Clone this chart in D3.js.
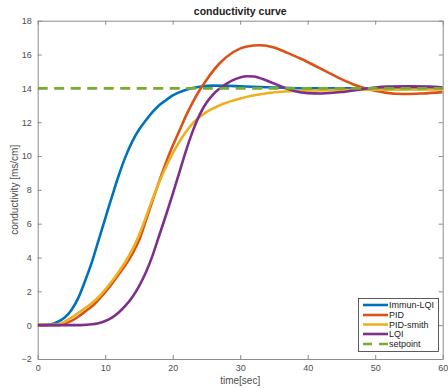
<!DOCTYPE html>
<html>
<head>
<meta charset="utf-8">
<script src="https://cdn.jsdelivr.net/npm/d3@7"></script>
<style>
  body { margin: 0; background: #fff; }
  svg { display: block; font-family: "Liberation Sans", Arial, sans-serif; }
</style>
</head>
<body>
<div class="chart"></div>
<script>
// data (time in sec, conductivity in ms/cm)
var immunT = [0, 1, 2, 3, 4, 5, 6, 7, 8, 9, 10, 11, 12, 13, 14, 15, 16, 17, 18, 19, 20, 22, 24, 26, 28, 30, 35, 40, 50, 60];
var immunV = [0, 0, 0.05, 0.2, 0.45, 0.9, 1.6, 2.6, 3.7, 5.0, 6.3, 7.6, 8.85, 9.95, 10.85, 11.55, 12.1, 12.6, 13.0, 13.3, 13.58, 13.92, 14.1, 14.16, 14.15, 14.12, 14.05, 14.0, 14.0, 14.0];

var pidT = [0, 3, 4, 5, 6, 7, 8, 9, 10, 11, 12, 13, 14, 15, 16, 17, 18, 19, 20, 21, 22, 23, 24, 25, 27, 29, 31, 33, 35, 37, 39, 41, 43, 45, 47, 49, 51, 53, 55, 57, 60];
var pidV = [0, 0, 0.1, 0.25, 0.5, 0.8, 1.1, 1.5, 1.95, 2.45, 3.0, 3.55, 4.2, 5.0, 6.15, 7.35, 8.5, 9.6, 10.6, 11.5, 12.4, 13.2, 13.9, 14.5, 15.5, 16.15, 16.48, 16.55, 16.42, 16.1, 15.75, 15.35, 14.95, 14.55, 14.2, 13.95, 13.78, 13.68, 13.67, 13.7, 13.78];

var smithT = [0, 3, 4, 5, 6, 7, 8, 9, 10, 11, 12, 13, 14, 15, 16, 17, 18, 19, 20, 21, 22, 23, 25, 27, 30, 33, 36, 40, 45, 50, 60];
var smithV = [0, 0.05, 0.2, 0.45, 0.72, 1.0, 1.3, 1.65, 2.1, 2.6, 3.15, 3.75, 4.45, 5.3, 6.35, 7.45, 8.45, 9.35, 10.15, 10.85, 11.45, 11.95, 12.6, 13.0, 13.4, 13.65, 13.8, 13.87, 13.9, 13.92, 13.93];

var lqiT = [0, 6, 7, 8, 9, 10, 11, 12, 13, 14, 15, 16, 17, 18, 19, 20, 21, 22, 23, 24, 25, 26, 27, 28, 29, 31, 32, 34, 36, 38, 40, 42, 45, 48, 50, 52, 55, 58, 60];
var lqiV = [0, 0, 0.02, 0.05, 0.12, 0.25, 0.45, 0.75, 1.15, 1.65, 2.3, 3.1, 4.1, 5.3, 6.5, 7.75, 9.05, 10.35, 11.5, 12.45, 13.15, 13.65, 14.0, 14.28, 14.5, 14.72, 14.7, 14.45, 14.12, 13.85, 13.72, 13.7, 13.78, 13.95, 14.05, 14.1, 14.12, 14.1, 14.05];

var setpointT = [0, 60];
var setpointV = [14, 14];

var seriesNames = ["Immun-LQI", "PID", "PID-smith", "LQI", "setpoint"];
var colors = ["#0072BD", "#D95319", "#EDB120", "#7E2F8E", "#77AC30"];

var xTicks = [0, 10, 20, 30, 40, 50, 60];
var yTicks = [-2, 0, 2, 4, 6, 8, 10, 12, 14, 16, 18];

var W = 448, H = 388;
var pLeft = 37.7, pRight = 442.7, pTop = 20.7, pBottom = 359;

var series = [
  { name: seriesNames[0], t: immunT, v: immunV, color: colors[0] },
  { name: seriesNames[1], t: pidT, v: pidV, color: colors[1] },
  { name: seriesNames[2], t: smithT, v: smithV, color: colors[2] },
  { name: seriesNames[3], t: lqiT, v: lqiV, color: colors[3] },
  { name: seriesNames[4], t: setpointT, v: setpointV, color: colors[4], dash: "10,6.5" }
];

var x = d3.scaleLinear().domain([0, 60]).range([pLeft, pRight]);
var y = d3.scaleLinear().domain([-2, 18]).range([pBottom, pTop]);

var svg = d3.select(".chart").append("svg")
  .attr("width", W)
  .attr("height", H);

// clip so curves stay inside the box
svg.append("defs").append("clipPath").attr("id", "plotclip")
  .append("rect")
  .attr("x", pLeft).attr("y", pTop)
  .attr("width", pRight - pLeft).attr("height", pBottom - pTop);

var axisColor = "#8c8c8c";
var textColor = "#4d4d4d";

// axes, ticks inside like matlab
var xAxis = svg.append("g")
  .attr("transform", "translate(0," + pBottom + ")")
  .call(d3.axisBottom(x).tickValues(xTicks).tickSizeInner(-4).tickSizeOuter(0).tickPadding(6));
var xTop = svg.append("g")
  .attr("transform", "translate(0," + pTop + ")")
  .call(d3.axisTop(x).tickValues(xTicks).tickSizeInner(-4).tickSizeOuter(0).tickFormat(""));
var yAxis = svg.append("g")
  .attr("transform", "translate(" + pLeft + ",0)")
  .call(d3.axisLeft(y).tickValues(yTicks).tickSizeInner(-4).tickSizeOuter(0).tickPadding(6));
var yRight = svg.append("g")
  .attr("transform", "translate(" + pRight + ",0)")
  .call(d3.axisRight(y).tickValues(yTicks).tickSizeInner(-4).tickSizeOuter(0).tickFormat(""));

[xAxis, xTop, yAxis, yRight].forEach(function (a) {
  a.selectAll("path").attr("stroke", axisColor).attr("stroke-width", 1);
  a.selectAll("line").attr("stroke", axisColor);
  a.selectAll("text").attr("fill", textColor).style("font-size", "9px");
});

// the lines
var line = d3.line()
  .x(function (d) { return x(d[0]); })
  .y(function (d) { return y(d[1]); })
  .curve(d3.curveMonotoneX);

var plot = svg.append("g").attr("clip-path", "url(#plotclip)");
series.forEach(function (s) {
  var pts = s.t.map(function (t, i) { return [t, s.v[i]]; });
  plot.append("path")
    .attr("d", line(pts))
    .attr("fill", "none")
    .attr("stroke", s.color)
    .attr("stroke-width", 2.6)
    .attr("stroke-dasharray", s.dash || null);
});

// title and labels
svg.append("text")
  .attr("x", (pLeft + pRight) / 2)
  .attr("y", 15)
  .attr("text-anchor", "middle")
  .style("font-size", "10.5px")
  .style("font-weight", "bold")
  .attr("fill", "#222")
  .text("conductivity curve");

svg.append("text")
  .attr("x", (pLeft + pRight) / 2)
  .attr("y", 384)
  .attr("text-anchor", "middle")
  .style("font-size", "10px")
  .attr("fill", textColor)
  .text("time[sec]");

svg.append("text")
  .attr("transform", "translate(18," + ((pTop + pBottom) / 2) + ") rotate(-90)")
  .attr("text-anchor", "middle")
  .style("font-size", "10px")
  .attr("fill", textColor)
  .text("conductivity [ms/cm]");

// legend
var lg = svg.append("g");
lg.append("rect")
  .attr("x", 358.5).attr("y", 298.5)
  .attr("width", 80).attr("height", 53)
  .attr("fill", "#fff")
  .attr("stroke", "#333")
  .attr("stroke-width", 0.8);

var rowY = [305, 315, 324.5, 334, 344];
series.forEach(function (s, i) {
  lg.append("line")
    .attr("x1", 363).attr("x2", 388)
    .attr("y1", rowY[i]).attr("y2", rowY[i])
    .attr("stroke", s.color)
    .attr("stroke-width", 2.6)
    .attr("stroke-dasharray", s.dash ? "9,7" : null);
  lg.append("text")
    .attr("x", 389)
    .attr("y", rowY[i])
    .attr("dy", "0.35em")
    .style("font-size", "9px")
    .attr("fill", "#222")
    .text(s.name);
});
</script>
</body>
</html>
